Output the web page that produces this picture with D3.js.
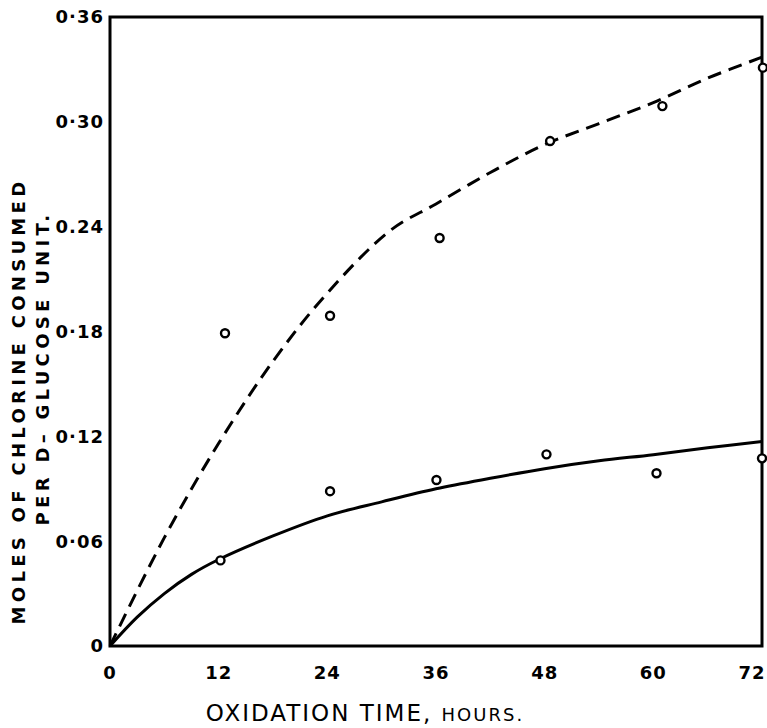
<!DOCTYPE html>
<html>
<head>
<meta charset="utf-8">
<script src="https://cdn.jsdelivr.net/npm/d3@7"></script>
<style>
  body { margin: 0; background: #fff; }
  svg { display: block; }
</style>
</head>
<body>
<svg id="chart"></svg>
<script>
// Data
const xTicks = [0, 12, 24, 36, 48, 60, 72];
const yTicks = [0, 0.06, 0.12, 0.18, 0.24, 0.30, 0.36];
const yTickLabels = ["0", "0·06", "0·12", "0·18", "0.24", "0·30", "0·36"];

// upper (dashed) series: fitted curve and observed points
const dashedCurveHours = [0, 6, 12, 18, 24, 31, 36, 42, 48, 54, 60, 66, 72];
const dashedCurveMoles = [0, 0.062, 0.116, 0.163, 0.202, 0.238, 0.253, 0.271, 0.287, 0.299, 0.311, 0.325, 0.337];
const dashedPointHours = [12.7, 24.3, 36.4, 48.6, 61.0, 72.1];
const dashedPointMoles = [0.179, 0.189, 0.2335, 0.289, 0.309, 0.331];

// lower (solid) series
const solidCurveHours = [0, 3, 6, 9, 12, 18, 24, 30, 36, 42, 48, 54, 60, 66, 72];
const solidCurveMoles = [0, 0.0165, 0.030, 0.041, 0.0495, 0.063, 0.0745, 0.0825, 0.090, 0.096, 0.1015, 0.106, 0.1095, 0.1135, 0.117];
const solidPointHours = [12.2, 24.3, 36.05, 48.2, 60.35, 72.0];
const solidPointMoles = [0.049, 0.0886, 0.095, 0.1097, 0.0989, 0.1074];

const width = 767;
const height = 728;
const svg = d3.select("#chart").attr("width", width).attr("height", height);

const x = d3.scaleLinear().domain([0, 72]).range([110, 762]);
const y = d3.scaleLinear().domain([0, 0.36]).range([646, 17]);

const font = "'DejaVu Sans', sans-serif";

// frame
svg.append("rect")
  .attr("x", x(0))
  .attr("y", y(0.36))
  .attr("width", x(72) - x(0))
  .attr("height", y(0) - y(0.36))
  .attr("fill", "none")
  .attr("stroke", "#000")
  .attr("stroke-width", 3);

// tick labels (no tick marks in the original)
svg.append("g")
  .selectAll("text")
  .data(yTicks)
  .enter()
  .append("text")
  .attr("x", x(0) - 6)
  .attr("y", (d) => y(d))
  .attr("dy", "0.36em")
  .attr("text-anchor", "end")
  .attr("font-family", font)
  .attr("font-weight", "bold")
  .attr("font-size", 18)
  .attr("letter-spacing", 1)
  .text((d, i) => yTickLabels[i]);

svg.append("g")
  .selectAll("text")
  .data(xTicks)
  .enter()
  .append("text")
  .attr("x", (d) => (d === 72 ? x(d) - 10 : x(d)))
  .attr("y", y(0) + 33)
  .attr("text-anchor", "middle")
  .attr("font-family", font)
  .attr("font-weight", "bold")
  .attr("font-size", 18)
  .attr("letter-spacing", 1)
  .text((d) => d);

// axis titles
let xTitle = svg.append("text")
  .attr("x", 365)
  .attr("y", 721)
  .attr("text-anchor", "middle")
  .attr("font-family", font)
  .attr("fill", "#000");
xTitle.append("tspan").attr("font-size", 23).attr("letter-spacing", 2).text("OXIDATION  TIME, ");
xTitle.append("tspan").attr("font-size", 18).attr("letter-spacing", 2).text("HOURS.");

let yTitle = svg.append("g").attr("transform", "rotate(-90)");
yTitle.append("text")
  .attr("x", -401)
  .attr("y", 25)
  .attr("text-anchor", "middle")
  .attr("font-family", font)
  .attr("font-weight", "bold")
  .attr("font-size", 18)
  .attr("letter-spacing", 4.3)
  .text("MOLES OF CHLORINE CONSUMED");
yTitle.append("text")
  .attr("x", -368)
  .attr("y", 49)
  .attr("text-anchor", "middle")
  .attr("font-family", font)
  .attr("font-weight", "bold")
  .attr("font-size", 18)
  .attr("letter-spacing", 4.3)
  .text("PER D– GLUCOSE UNIT.");

// curves
const line = d3.line()
  .x((d) => x(d[0]))
  .y((d) => y(d[1]))
  .curve(d3.curveCatmullRom.alpha(0.5));

svg.append("path")
  .datum(dashedCurveHours.map((h, i) => [h, dashedCurveMoles[i]]))
  .attr("d", line)
  .attr("fill", "none")
  .attr("stroke", "#000")
  .attr("stroke-width", 3)
  .attr("stroke-dasharray", "14,8");

svg.append("path")
  .datum(solidCurveHours.map((h, i) => [h, solidCurveMoles[i]]))
  .attr("d", line)
  .attr("fill", "none")
  .attr("stroke", "#000")
  .attr("stroke-width", 3);

// observed points (open circles)
const points = dashedPointHours.map((h, i) => [h, dashedPointMoles[i]])
  .concat(solidPointHours.map((h, i) => [h, solidPointMoles[i]]));

svg.append("g")
  .selectAll("circle")
  .data(points)
  .enter()
  .append("circle")
  .attr("cx", (d) => x(d[0]))
  .attr("cy", (d) => y(d[1]))
  .attr("r", 4)
  .attr("fill", "#fff")
  .attr("stroke", "#000")
  .attr("stroke-width", 2.4);
</script>
</body>
</html>
